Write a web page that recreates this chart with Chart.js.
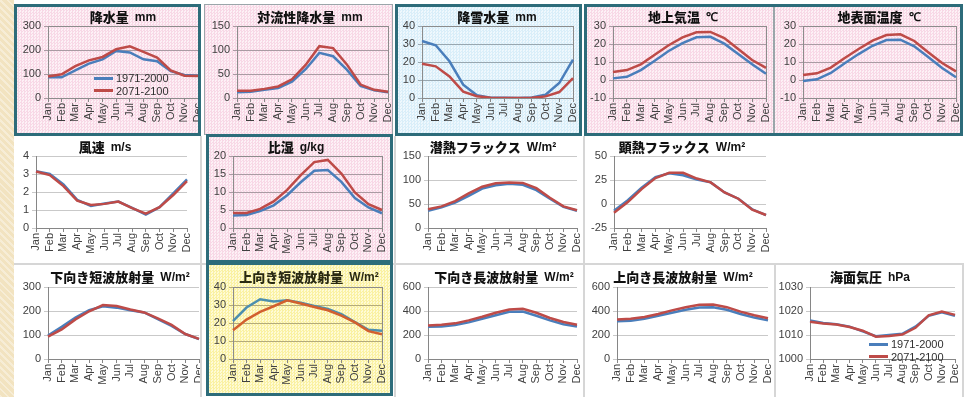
<!DOCTYPE html>
<html>
<head>
<meta charset="utf-8">
<script src="https://cdn.jsdelivr.net/npm/chart.js@4.4.0/dist/chart.umd.min.js"></script>
<style>
  html, body { margin: 0; padding: 0; }
  body { width: 973px; height: 397px; position: relative; overflow: hidden; background: #fff; }
  .abs { position: absolute; box-sizing: border-box; }
  .strip { background-color: #f2e3c0;
    background-image: repeating-linear-gradient(45deg, rgba(255,255,255,0.35) 0 2px, transparent 2px 5px); }
  .pink { background: repeating-conic-gradient(#f8d8e6 0 25%, #fdf1f6 0 50%) 0 0 / 3px 3px; }
  .blue { background: repeating-conic-gradient(#d9eef9 0 25%, #eff8fd 0 50%) 0 0 / 3px 3px; }
  .yellow { background: repeating-conic-gradient(#faf1a2 0 25%, #fefbd6 0 50%) 0 0 / 3px 3px; }
  .white { background: #fff; }
  .frame { border: 3px solid #2d6c7a; pointer-events: none; }
  .thin { border: 1px solid #d6d6d6; pointer-events: none; }
  .thinDark { border: 1px solid #9aa6aa; pointer-events: none; }
  canvas { position: absolute; }
  .legend { position: absolute; font: 11px "Liberation Sans Narrow", "Liberation Sans", sans-serif; color: #303030; }
  .legend .row { height: 12.5px; line-height: 12.5px; white-space: nowrap; display: flex; align-items: center; }
  .legend .sw { display: inline-block; width: 19px; height: 3px; margin-right: 3px; }
</style>
</head>
<body>
<div id="bg"></div>
<div id="charts"></div>
<div id="frames"></div>
<div id="legends"></div>
<script>
// ---- data ----
const MONTHS = ['Jan','Feb','Mar','Apr','May','Jun','Jul','Aug','Sep','Oct','Nov','Dec'];
const PERIODS = ['1971-2000', '2071-2100'];

// 降水量 mm
const precip1971 = [86, 86, 115, 143, 161, 196, 190, 161, 153, 112, 96, 93];
const precip2071 = [90, 99, 133, 157, 171, 203, 215, 192, 168, 115, 93, 92];
// 対流性降水量 mm
const convPrecip1971 = [12, 13, 17, 21, 34, 60, 94, 87, 59, 25, 16, 12];
const convPrecip2071 = [15, 15, 19, 24, 39, 69, 108, 104, 70, 28, 17, 13];
// 降雪水量 mm
const snow1971 = [31.7, 29.3, 20.4, 7.4, 1.5, 0.2, 0.1, 0, 0.3, 1.8, 8.3, 21.3];
const snow2071 = [19, 17.6, 12, 3.5, 1, 0.1, 0, 0, 0.1, 0.9, 3.3, 11];
// 地上気温 ℃
const airTemp1971 = [0.9, 1.8, 5.5, 10.7, 16.1, 20.5, 23.7, 24, 20.2, 14.4, 8.7, 3.5];
const airTemp2071 = [4.4, 5.5, 8.7, 14, 19.3, 23.7, 26.5, 26.7, 23.3, 17.2, 11.1, 6.7];
// 地表面温度 ℃
const sfcTemp1971 = [-0.6, 0.4, 3.9, 9.3, 14.4, 19, 22.2, 22.4, 18.7, 12.8, 6.7, 1.5];
const sfcTemp2071 = [2.8, 3.7, 6.9, 12.2, 17.2, 21.9, 25, 25.4, 21.7, 15.4, 9.4, 4.8];
// 風速 m/s
const wind1971 = [3.16, 3.0, 2.42, 1.56, 1.23, 1.36, 1.47, 1.12, 0.75, 1.16, 1.93, 2.7];
const wind2071 = [3.14, 2.94, 2.33, 1.52, 1.28, 1.34, 1.47, 1.1, 0.8, 1.16, 1.83, 2.6];
// 比湿 g/kg
const humid1971 = [3.5, 3.6, 4.7, 6.3, 9.1, 12.7, 15.9, 16.1, 12.8, 8.3, 5.7, 4.1];
const humid2071 = [4.2, 4.2, 5.3, 7.4, 10.6, 14.7, 18.3, 18.9, 15.1, 9.9, 6.6, 5.0];
// 潜熱フラックス W/m²
const latent1971 = [36, 43, 53, 67, 82, 89, 92, 90, 79, 61, 44, 36];
const latent2071 = [39, 45, 56, 72, 86, 93, 95, 94, 83, 63, 45, 37];
// 顕熱フラックス W/m²
const sensible1971 = [-7, 4, 17, 28, 32, 30, 25.5, 22.5, 12, 5.5, -5.5, -11.5];
const sensible2071 = [-9, 2, 15.5, 27, 32.5, 32.5, 26.5, 22.5, 12, 5.5, -6, -11.5];
// 下向き短波放射量 W/m²
const swDown1971 = [98, 134, 173, 203, 220, 214, 203, 194, 166, 138, 104, 83];
const swDown2071 = [93, 123, 165, 199, 225, 221, 206, 194, 169, 142, 104, 84];
// 上向き短波放射量 W/m²
const swUp1971 = [21, 28.6, 33.2, 31.9, 32.6, 31.3, 29.5, 27.8, 24.9, 20.5, 16.2, 15.7];
const swUp2071 = [16, 21.9, 26.2, 29.3, 32.6, 30.8, 28.9, 27.1, 24.1, 20.3, 15.5, 13.8];
// 下向き長波放射量 W/m²
const lwDown1971 = [268, 270, 283, 305, 335, 365, 393, 395, 360, 322, 290, 270];
const lwDown2071 = [280, 285, 297, 322, 352, 385, 412, 418, 385, 342, 308, 285];
// 上向き長波放射量 W/m²
const lwUp1971 = [315, 318, 335, 360, 385, 410, 430, 432, 410, 375, 345, 322];
const lwUp2071 = [330, 335, 350, 375, 405, 432, 452, 455, 432, 395, 365, 340];
// 海面気圧 hPa
const slp1971 = [1016, 1015, 1014.5, 1013.5, 1011.5, 1009.5, 1010, 1010.5, 1013.5, 1018, 1019.5, 1018];
const slp2071 = [1015.5, 1014.8, 1014.4, 1013.3, 1011.8, 1009.3, 1009.6, 1010.2, 1013, 1018.2, 1019.8, 1018.4];

// ---- styles ----
const THEMES = {
  pink:   { grid: '#a99ba3', frame: '#8c8c8c', past: '#4a7ebb', future: '#be4b48', title: '#111' },
  blue:   { grid: '#98a7b0', frame: '#8c8c8c', past: '#4a7ebb', future: '#be4b48', title: '#111' },
  yellow: { grid: '#b3ab7c', frame: '#8c8c8c', past: '#4d8fae', future: '#d2602f', title: '#2a2a12' },
  white:  { grid: '#c9c9c9', frame: null,      past: '#4a7ebb', future: '#be4b48', title: '#111' }
};
const AXIS = '#868686';
const TICK = '#404040';

// panel layout: canvas [x,y,w,h], plot [left,top,right,bottom], title centre
const panels = [
  { name:'降水量', unit:'mm', past:precip1971, future:precip2071, min:0, max:300, step:100, theme:'pink',
    canvas:[17,7,184,126], plot:[48,26,198,98], tx:123, ty:17 },
  { name:'対流性降水量', unit:'mm', past:convPrecip1971, future:convPrecip2071, min:0, max:150, step:50, theme:'pink',
    canvas:[205,7,190,126], plot:[237,26,388,98], tx:310, ty:17 },
  { name:'降雪水量', unit:'mm', past:snow1971, future:snow2071, min:0, max:40, step:10, theme:'blue',
    canvas:[398,7,182,126], plot:[422,26,573,98], tx:497, ty:17 },
  { name:'地上気温', unit:'℃', past:airTemp1971, future:airTemp2071, min:-10, max:30, step:10, theme:'pink',
    canvas:[587,7,185,126], plot:[613,26,766,98], tx:683, ty:17 },
  { name:'地表面温度', unit:'℃', past:sfcTemp1971, future:sfcTemp2071, min:-10, max:30, step:10, theme:'pink',
    canvas:[775,7,185,126], plot:[803,26,956,98], tx:879, ty:17 },

  { name:'風速', unit:'m/s', past:wind1971, future:wind2071, min:0, max:4, step:1, theme:'white',
    canvas:[15,137,185,125], plot:[36,156,187,228], tx:105, ty:147 },
  { name:'比湿', unit:'g/kg', past:humid1971, future:humid2071, min:0, max:20, step:5, theme:'pink',
    canvas:[209,137,182,124], plot:[233,156,382,228], tx:296, ty:147 },
  { name:'潜熱フラックス', unit:'W/m²', past:latent1971, future:latent2071, min:0, max:150, step:50, theme:'white',
    canvas:[396,137,188,125], plot:[428,156,577,228], tx:493, ty:147 },
  { name:'顕熱フラックス', unit:'W/m²', past:sensible1971, future:sensible2071, min:-25, max:50, step:25, theme:'white',
    canvas:[586,137,187,125], plot:[614,156,766,228], tx:682, ty:147 },

  { name:'下向き短波放射量', unit:'W/m²', past:swDown1971, future:swDown2071, min:0, max:300, step:100, theme:'white',
    canvas:[15,266,186,131], plot:[48,287,199,359], tx:120, ty:277 },
  { name:'上向き短波放射量', unit:'W/m²', past:swUp1971, future:swUp2071, min:0, max:40, step:10, theme:'yellow',
    canvas:[209,266,182,128], plot:[233,287,382,359], tx:309, ty:277 },
  { name:'下向き長波放射量', unit:'W/m²', past:lwDown1971, future:lwDown2071, min:0, max:600, step:200, theme:'white',
    canvas:[396,266,188,131], plot:[428,287,577,359], tx:504, ty:277 },
  { name:'上向き長波放射量', unit:'W/m²', past:lwUp1971, future:lwUp2071, min:0, max:600, step:200, theme:'white',
    canvas:[586,266,188,131], plot:[617,287,768,359], tx:683, ty:277 },
  { name:'海面気圧', unit:'hPa', past:slp1971, future:slp2071, min:1000, max:1030, step:10, theme:'white',
    canvas:[776,266,186,131], plot:[810,287,955,359], tx:870, ty:277 }
];

// background tiles, then frames drawn over the charts
const backgrounds = [
  ['strip', 0, 0, 14, 397],
  ['pink', 14, 4, 187, 132], ['pink', 204, 4, 189, 131], ['blue', 395, 4, 187, 132],
  ['pink', 584, 4, 379, 132],
  ['white', 14, 136, 187, 128], ['pink', 206, 134, 187, 129], ['white', 395, 136, 189, 128], ['white', 584, 136, 190, 128],
  ['white', 14, 263, 187, 134], ['yellow', 206, 262, 187, 134], ['white', 395, 263, 189, 134],
  ['white', 584, 263, 191, 134], ['white', 775, 263, 188, 134]
];
const frames = [
  ['thin', 200, 136, 1, 261], ['thin', 14, 263, 949, 1], ['thin', 583, 136, 1, 261], ['thin', 774, 263, 1, 134],
  ['thin', 394, 136, 1, 261], ['thin', 962, 263, 1, 134],
  ['thinDark', 204, 4, 189, 131], ['thinDark', 773, 7, 1, 126],
  ['frame', 14, 4, 187, 132], ['frame', 395, 4, 187, 132], ['frame', 584, 4, 379, 132],
  ['frame', 206, 134, 187, 129], ['frame', 206, 262, 187, 134]
];

function place(parent, cls, x, y, w, h) {
  const d = document.createElement('div');
  d.className = 'abs ' + cls;
  Object.assign(d.style, { left: x + 'px', top: y + 'px', width: w + 'px', height: h + 'px' });
  parent.appendChild(d);
  return d;
}
const bgLayer = document.getElementById('bg');
backgrounds.forEach(b => place(bgLayer, b[0], b[1], b[2], b[3], b[4]));
const frameLayer = document.getElementById('frames');
frames.forEach(f => place(frameLayer, f[0], f[1], f[2], f[3], f[4]));

// heading drawn in two fonts: the Japanese name and the unit
const panelTitle = {
  id: 'panelTitle',
  afterDraw(chart, args, o) {
    const ctx = chart.ctx;
    ctx.save();
    const f1 = '900 13px "Noto Sans CJK JP", sans-serif';
    const f2 = 'bold 12px "Liberation Sans", sans-serif';
    ctx.font = f1; const w1 = ctx.measureText(o.name).width;
    ctx.font = f2; const w2 = ctx.measureText(o.unit).width;
    const gap = 6;
    const x0 = o.x - (w1 + gap + w2) / 2;
    ctx.fillStyle = o.color;
    ctx.textBaseline = 'middle';
    ctx.textAlign = 'left';
    ctx.font = f1; ctx.fillText(o.name, x0, o.y);
    ctx.font = f2; ctx.fillText(o.unit, x0 + w1 + gap, o.y + 0.5);
    ctx.restore();
  }
};
// outline of the plot area
const plotFrame = {
  id: 'plotFrame',
  beforeDatasetsDraw(chart, args, o) {
    if (!o.color) return;
    const a = chart.chartArea, ctx = chart.ctx;
    ctx.save();
    ctx.strokeStyle = o.color; ctx.lineWidth = 1;
    ctx.strokeRect(Math.round(a.left) + 0.5, Math.round(a.top) + 0.5, Math.round(a.right - a.left), Math.round(a.bottom - a.top));
    ctx.restore();
  }
};

const chartLayer = document.getElementById('charts');
panels.forEach(p => {
  const th = THEMES[p.theme];
  const [cx, cy, cw, ch] = p.canvas;
  const [L, T, R, B] = p.plot;
  const c = document.createElement('canvas');
  c.width = cw; c.height = ch;
  Object.assign(c.style, { left: cx + 'px', top: cy + 'px', width: cw + 'px', height: ch + 'px' });
  chartLayer.appendChild(c);
  new Chart(c, {
    type: 'line',
    data: {
      labels: MONTHS,
      datasets: [
        { label: PERIODS[0], data: p.past, borderColor: th.past, backgroundColor: th.past, borderWidth: 2.5, pointRadius: 0, tension: 0, order: 1 },
        { label: PERIODS[1], data: p.future, borderColor: th.future, backgroundColor: th.future, borderWidth: 2.5, pointRadius: 0, tension: 0, order: 0 }
      ]
    },
    options: {
      responsive: false, animation: false, devicePixelRatio: 1,
      layout: { padding: { left: 0, top: T - cy, right: cx + cw - R, bottom: 0 } },
      plugins: {
        legend: { display: false }, tooltip: { enabled: false }, title: { display: false },
        panelTitle: { name: p.name, unit: p.unit, x: p.tx - cx, y: p.ty - cy, color: th.title },
        plotFrame: { color: th.frame }
      },
      scales: {
        x: {
          offset: false,
          grid: { offset: false, drawOnChartArea: false, drawTicks: true, tickLength: 4, color: AXIS },
          border: { color: AXIS, width: 1 },
          ticks: { minRotation: 90, maxRotation: 90, autoSkip: false, padding: 1, color: TICK,
                   font: { family: '"Liberation Sans", sans-serif', size: 11 } },
          afterFit(s) { s.height = cy + ch - B; s.paddingLeft = 0; s.paddingRight = 0; }
        },
        y: {
          min: p.min, max: p.max,
          grid: { color: th.grid, lineWidth: 1, tickLength: 4 },
          border: { color: AXIS, width: 1 },
          ticks: { stepSize: p.step, padding: 3, color: TICK,
                   font: { family: '"Liberation Sans", sans-serif', size: 11 },
                   callback: v => String(v) },
          afterFit(s) { s.width = L - cx; s.paddingTop = 0; s.paddingBottom = 0; }
        }
      }
    },
    plugins: [panelTitle, plotFrame]
  });
});

// legends
const legendSpots = [
  { x: 94, y: 72, theme: 'pink' },
  { x: 869, y: 338, theme: 'white' }
];
const legendLayer = document.getElementById('legends');
legendSpots.forEach(s => {
  const th = THEMES[s.theme];
  const box = document.createElement('div');
  box.className = 'legend';
  box.style.left = s.x + 'px'; box.style.top = s.y + 'px';
  [th.past, th.future].forEach((col, i) => {
    const row = document.createElement('div');
    row.className = 'row';
    const sw = document.createElement('span');
    sw.className = 'sw'; sw.style.background = col;
    row.appendChild(sw);
    row.appendChild(document.createTextNode(PERIODS[i]));
    box.appendChild(row);
  });
  legendLayer.appendChild(box);
});
</script>
</body>
</html>
